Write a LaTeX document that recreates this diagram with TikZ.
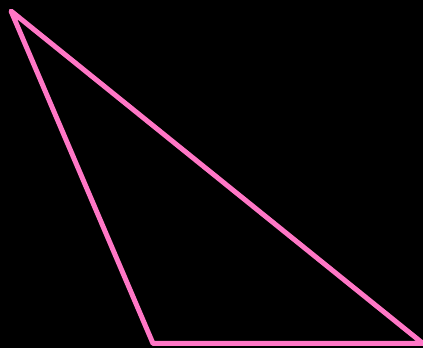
\documentclass[tikz,border=0pt]{standalone}
\definecolor{tripink}{HTML}{FF77C6}
\begin{document}
\begin{tikzpicture}[x=1pt,y=1pt,tri/.style={draw=tripink,line width=5pt,line join=round}]
\fill[black] (0,0) rectangle (423,348);
\useasboundingbox (0,0) rectangle (423,348);
\coordinate (A) at (11,337);
\coordinate (B) at (153,4.5);
\coordinate (C) at (423,4.5);
\draw[tri] (A) -- (B) -- (C) -- cycle;
\end{tikzpicture}
\end{document}
